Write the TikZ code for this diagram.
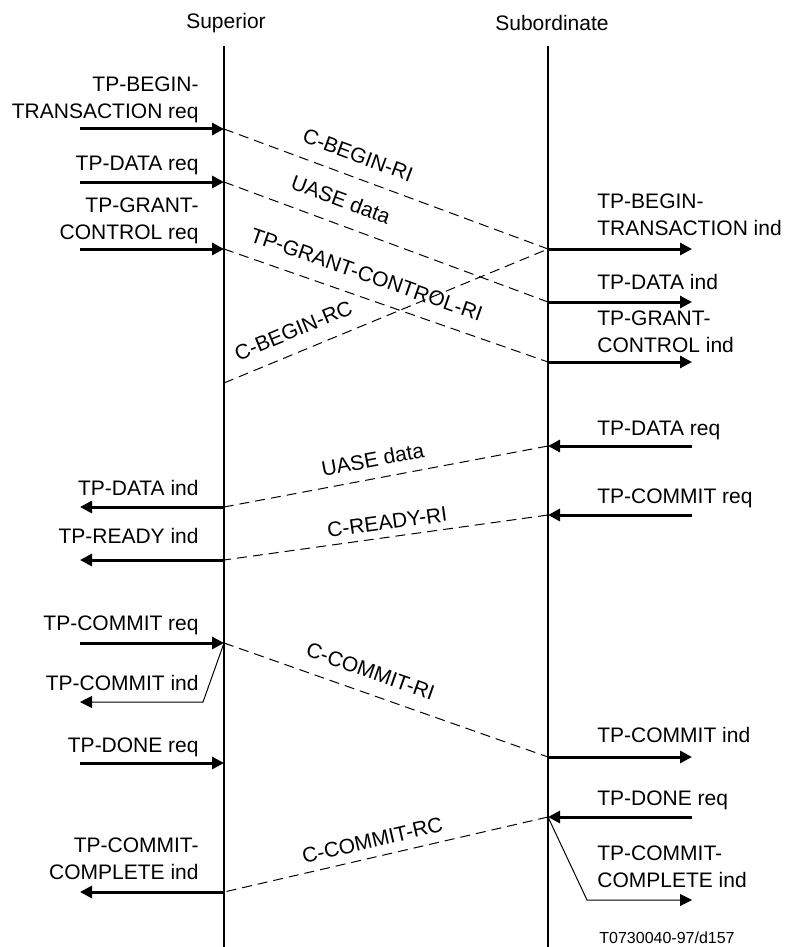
\documentclass[tikz,border=0pt]{standalone}
\usepackage{fontspec}
\setmainfont{Liberation Sans}
\usetikzlibrary{arrows.meta}
\begin{document}
\begin{tikzpicture}[x=0.5pt,y=-0.5pt,font=\fontsize{10.5}{13.5}\selectfont,
	msg/.style={line width=1.5pt,-{Triangle[length=6pt,width=6pt]}},
	bent/.style={line width=0.5pt,-{Triangle[length=6pt,width=6pt]}},
	pdu/.style={line width=0.5pt,dash pattern=on 5pt off 3pt},
	pdulab/.style={sloped,above=#1,inner sep=0pt},
	pdulab/.default=5.5pt,
	lft/.style={anchor=base east,align=right,inner sep=0pt},
	rgt/.style={anchor=base west,align=left,inner sep=0pt}]
	\useasboundingbox(0,0)rectangle(785,947);
	\draw[line width=1pt](224,46)coordinate(sup0)--(224,947)coordinate(supE);
	\draw[line width=1pt](548,46)coordinate(sub0)--(548,947)coordinate(subE);
	\node(superior) at (226,23){Superior};
	\node(subordinate) at (552,23){Subordinate};
	\foreach \n/\y in {a/129,b/182,c/249,d/383,e/507,f/560,g/643,h/763,i/892}{
		\coordinate(sup-\n) at (224,\y);
		\coordinate(L-\n) at (80,\y);
	}
	\foreach \n/\y in {a/249,b/302,c/362,d/446,e/515,f/757,g/817}{
		\coordinate(sub-\n) at (548,\y);
		\coordinate(R-\n) at (692,\y);
	}
	\foreach \n in {a,b,c,g,h} \draw[msg](L-\n)--(sup-\n);
	\foreach \n in {e,f,i} \draw[msg](sup-\n)--(L-\n);
	\foreach \n in {a,b,c,f} \draw[msg](sub-\n)--(R-\n);
	\foreach \n in {d,e,g} \draw[msg](R-\n)--(sub-\n);
	\coordinate(kL) at (203,702);
	\coordinate(L-k) at (80,702);
	\coordinate(kR) at (587,900);
	\coordinate(R-k) at (692,900);
	\draw[bent](sup-g)--(kL)--(L-k);
	\draw[bent](sub-g)--(kR)--(R-k);
	\draw[pdu](sup-a)--node[pdulab=7pt,pos=0.39](m1){C-BEGIN-RI}(sub-a);
	\draw[pdu](sup-b)--node[pdulab=8pt,pos=0.335](m2){UASE data}(sub-b);
	\draw[pdu](sup-c)--node[pdulab=7.5pt,pos=0.417](m3){TP-GRANT-CONTROL-RI}(sub-c);
	\draw[pdu](sup-d)--node[pdulab=7pt,pos=0.24](m4){C-BEGIN-RC}(sub-a);
	\draw[pdu](sub-d)--node[pdulab,pos=0.53](m5){UASE data}(sup-e);
	\draw[pdu](sub-e)--node[pdulab=3.5pt,pos=0.49](m6){C-READY-RI}(sup-f);
	\draw[pdu](sup-g)--node[pdulab=7pt,pos=0.43](m7){C-COMMIT-RI}(sub-f);
	\draw[pdu](sub-g)--node[pdulab=4.5pt,pos=0.53](m8){C-COMMIT-RC}(sup-i);
	\foreach \y/\t [count=\k] in {119/{TP-BEGIN-\\TRANSACTION req},170/{TP-DATA req},239/{TP-GRANT-\\CONTROL req},495/{TP-DATA ind},543/{TP-READY ind},630/{TP-COMMIT req},690/{TP-COMMIT ind},752/{TP-DONE req},879/{TP-COMMIT-\\COMPLETE ind}}
	\node[lft](lt\k) at (199,\y){\t};
	\foreach \y/\t [count=\k] in {235/{TP-BEGIN-\\TRANSACTION ind},289/{TP-DATA ind},352/{TP-GRANT-\\CONTROL ind},435/{TP-DATA req},503/{TP-COMMIT req},742/{TP-COMMIT ind},805/{TP-DONE req},887/{TP-COMMIT-\\COMPLETE ind}}
	\node[rgt](rt\k) at (597,\y){\t};
	\node(fig) at (667,938){\fontsize{8}{10}\selectfont T0730040-97/d157};
\end{tikzpicture}
\end{document}
